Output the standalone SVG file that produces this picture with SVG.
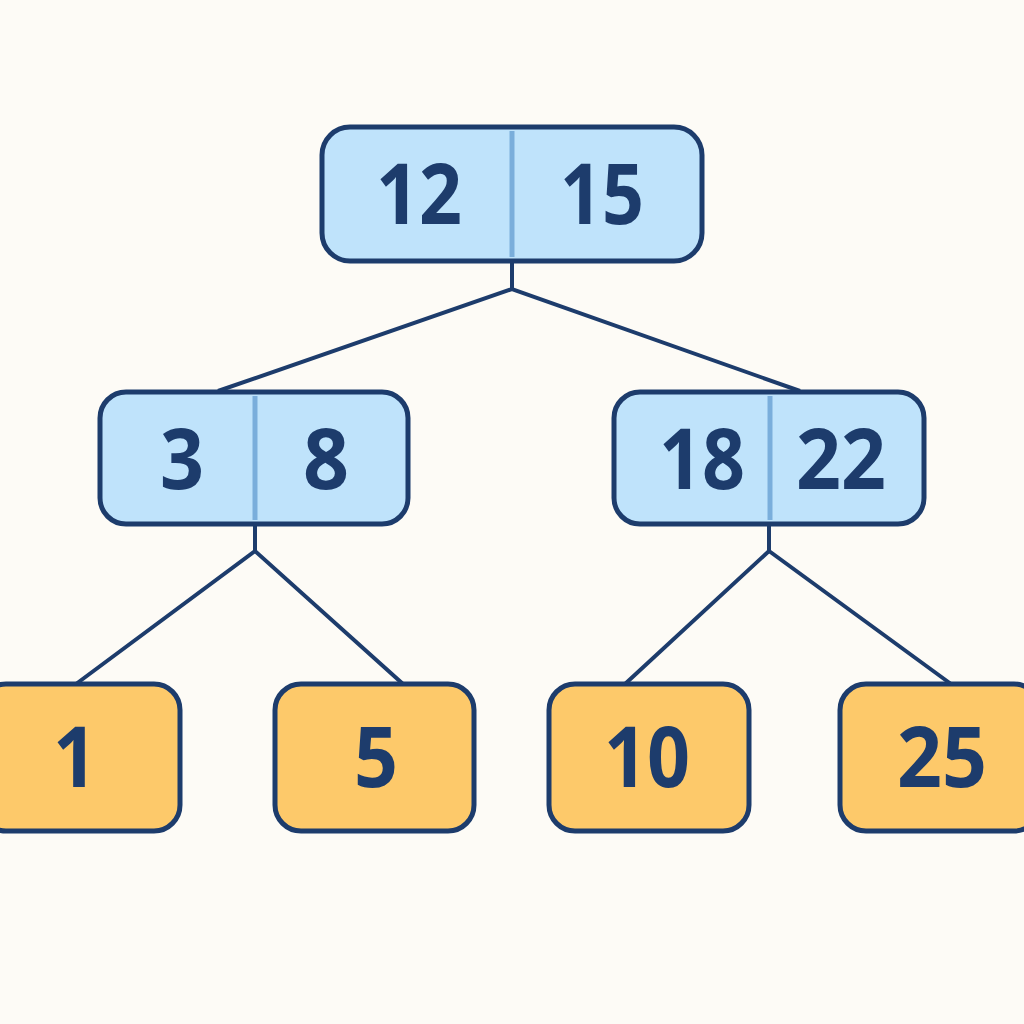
<svg xmlns="http://www.w3.org/2000/svg" width="1024" height="1024" viewBox="0 0 1024 1024">
<style>
.bg{fill:#fdfbf6}
.inner{fill:#bfe3fb;stroke:#1d3c6c;stroke-width:5}
.leaf{fill:#fdc96a;stroke:#1d3c6c;stroke-width:5}
.div{stroke:#7aaedb;stroke-width:5}
.edge{fill:none;stroke:#1d3c6c;stroke-width:4;stroke-linejoin:miter}
text{font-family:"Open Sans","Liberation Sans",sans-serif;font-weight:700;fill:#1d3c6c;text-anchor:middle;font-size:84px}
</style>
<rect class="bg" x="0" y="0" width="1024" height="1024"/>
<g id="connectors">
<path class="edge" d="M512,262 V289 M218,391 L512,289 L800,391"/>
<path class="edge" d="M255,524 V551 M76,684 L255,551 L403,684"/>
<path class="edge" d="M769,524 V551 M625,684 L769,551 L951,684"/>
</g>
<g id="node-root">
<rect class="inner" x="322" y="127" width="380" height="134" rx="28"/>
<line class="div" x1="512" y1="131" x2="512" y2="257"/>
<text x="419" y="224" textLength="86" lengthAdjust="spacingAndGlyphs">12</text>
<text x="602" y="224" textLength="84" lengthAdjust="spacingAndGlyphs">15</text>
</g>
<g id="node-left">
<rect class="inner" x="100" y="392" width="308" height="132" rx="26"/>
<line class="div" x1="255" y1="396" x2="255" y2="520"/>
<text x="182" y="489" textLength="44" lengthAdjust="spacingAndGlyphs">3</text>
<text x="326" y="489" textLength="46" lengthAdjust="spacingAndGlyphs">8</text>
</g>
<g id="node-right">
<rect class="inner" x="614" y="392" width="310" height="132" rx="26"/>
<line class="div" x1="770" y1="396" x2="770" y2="520"/>
<text x="702" y="489" textLength="86" lengthAdjust="spacingAndGlyphs">18</text>
<text x="841" y="489" textLength="90" lengthAdjust="spacingAndGlyphs">22</text>
</g>
<g id="leaf-1">
<rect class="leaf" x="-20" y="684" width="200" height="147" rx="26"/>
<text x="75" y="787" textLength="44" lengthAdjust="spacingAndGlyphs">1</text>
</g>
<g id="leaf-5">
<rect class="leaf" x="275" y="684" width="199" height="147" rx="26"/>
<text x="376" y="787" textLength="44" lengthAdjust="spacingAndGlyphs">5</text>
</g>
<g id="leaf-10">
<rect class="leaf" x="549" y="684" width="200" height="147" rx="26"/>
<text x="647" y="787" textLength="86" lengthAdjust="spacingAndGlyphs">10</text>
</g>
<g id="leaf-25">
<rect class="leaf" x="840" y="684" width="200" height="147" rx="26"/>
<text x="942" y="787" textLength="90" lengthAdjust="spacingAndGlyphs">25</text>
</g>
</svg>
